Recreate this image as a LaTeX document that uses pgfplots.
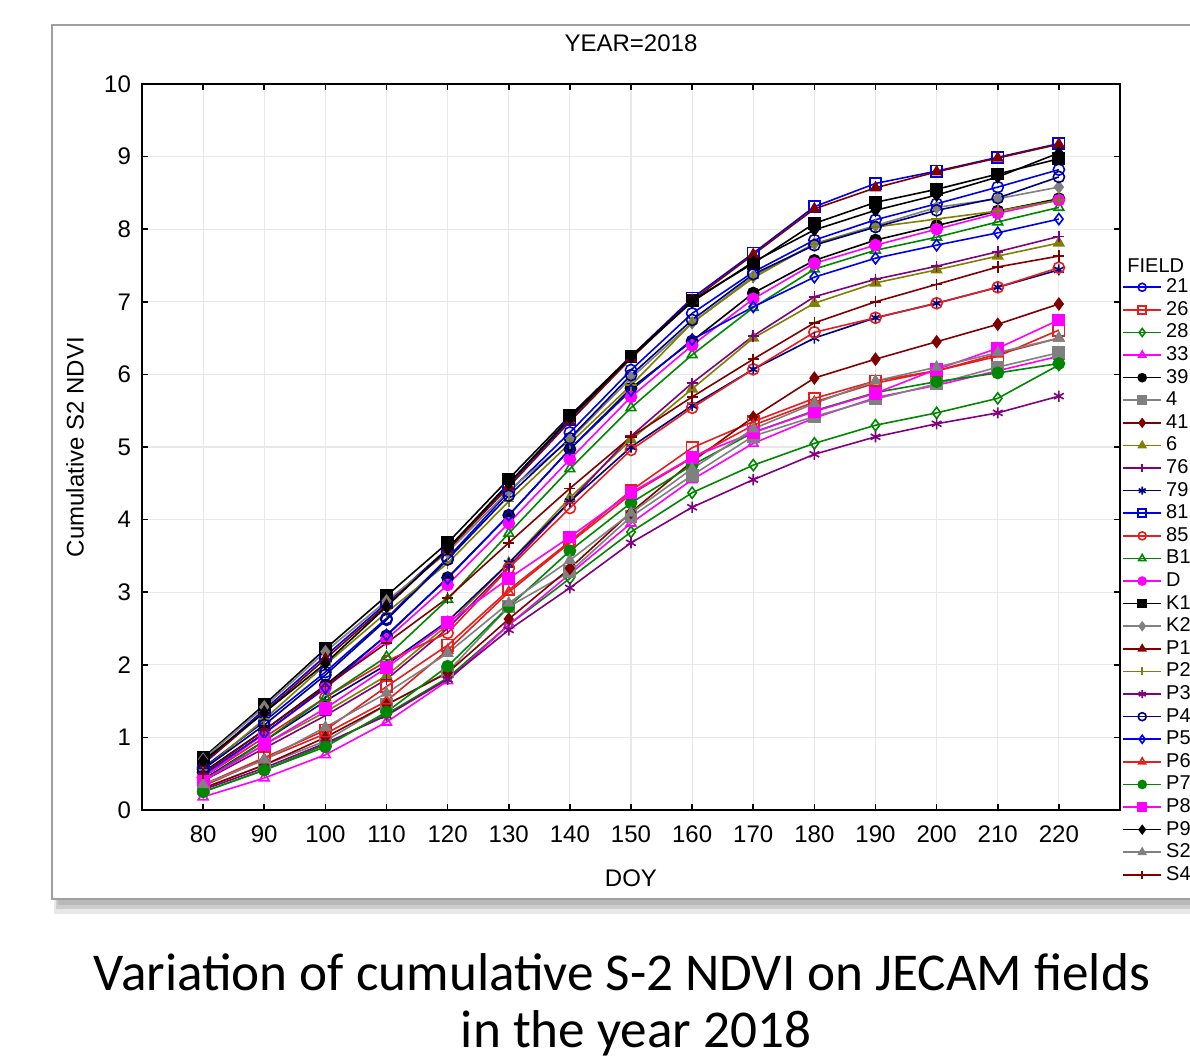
\documentclass[border=0pt]{standalone}
\usepackage{pgfplots}
\pgfplotsset{compat=1.18}
\usepackage{fontspec}
\setmainfont{Liberation Sans}
\newfontfamily\capfont{Carlito}
\definecolor{cblue}{RGB}{0,0,235}
\definecolor{cred}{RGB}{230,30,30}
\definecolor{cgreen}{RGB}{0,135,0}
\definecolor{cmag}{RGB}{255,0,255}
\definecolor{cgrey}{RGB}{128,128,128}
\definecolor{cdred}{RGB}{128,0,0}
\definecolor{colive}{RGB}{128,128,0}
\definecolor{cpurp}{RGB}{128,0,128}
\definecolor{cnavy}{RGB}{0,0,128}
\begin{document}
\begin{tikzpicture}
\path[use as bounding box] (0,0) rectangle (595pt,531pt);
\clip (0,0) rectangle (595pt,531pt);
% slide frame with shadow
\fill[gray!18] (27pt,74pt) rectangle (600pt,81pt);
\fill[gray!40] (28pt,76.5pt) rectangle (600pt,81pt);
\fill[gray!55] (29pt,78.5pt) rectangle (600pt,81pt);
\filldraw[fill=white, draw=gray!75, line width=0.8pt] (26pt,81.5pt) rectangle (600pt,518.5pt);
\node[anchor=west, inner sep=0pt, font=\fontsize{10}{11}\selectfont] at (563.5pt,398pt) {FIELD};
\begin{axis}[
  at={(71pt,126pt)}, anchor=south west,
  scale only axis, width=489pt, height=363pt,
  xmin=70, xmax=230, ymin=0, ymax=10,
  xtick={80,90,...,220}, ytick={0,1,...,10},
  grid=major, grid style={gray!18, line width=0.6pt},
  axis line style={line width=0.9pt},
  tick style={black, line width=0.8pt}, major tick length=3pt,
  tick label style={font=\fontsize{12}{14}\selectfont},
  /pgf/number format/assume math mode=true,
  xticklabel style={yshift=-4.5pt},
  yticklabel style={xshift=-2pt},
  title={YEAR=2018},
  title style={at={(0.5,1)}, anchor=center, yshift=14.5pt, font=\fontsize{12}{14}\selectfont},
  xlabel={DOY},
  xlabel style={at={(0.5,0)}, anchor=center, yshift=-34pt, font=\fontsize{12}{14}\selectfont},
  ylabel={Cumulative S2 NDVI},
  ylabel style={at={(0,0.5)}, anchor=center, yshift=33.5pt, font=\fontsize{12}{14}\selectfont},
  every axis plot/.append style={line width=0.8pt, mark size=2.8pt, mark options={solid}},
  legend style={at={(1,0.736)}, anchor=north west, xshift=1pt, draw=none, fill=none,
    inner sep=0pt, row sep=0.1pt,
    font=\fontsize{10}{11}\selectfont,
    nodes={inner sep=0.9pt, text height=7.4pt, text depth=2pt},
    /tikz/every odd column/.append style={column sep=1.2pt}},
  legend cell align=left,
  legend image code/.code={\draw[mark repeat=2,mark phase=2] plot coordinates {(0pt,0pt)(9.5pt,0pt)(19pt,0pt)};},
  legend image post style={mark size=2pt},
]
\addplot[cblue, mark=o] coordinates {(80,0.58)(90,1.22)(100,1.90)(110,2.64)(120,3.47)(130,4.38)(140,5.20)(150,6.06)(160,6.84)(170,7.41)(180,7.85)(190,8.13)(200,8.35)(210,8.58)(220,8.82)};
\addlegendentry{21}
\addplot[cred, mark=square] coordinates {(80,0.35)(90,0.72)(100,1.10)(110,1.70)(120,2.27)(130,3.03)(140,3.70)(150,4.40)(160,4.99)(170,5.35)(180,5.67)(190,5.91)(200,6.05)(210,6.25)(220,6.61)};
\addlegendentry{26}
\addplot[cgreen, mark=diamond] coordinates {(80,0.25)(90,0.55)(100,0.90)(110,1.32)(120,1.82)(130,2.55)(140,3.19)(150,3.83)(160,4.37)(170,4.75)(180,5.05)(190,5.30)(200,5.47)(210,5.67)(220,6.13)};
\addlegendentry{28}
\addplot[cmag, mark=triangle] coordinates {(80,0.18)(90,0.44)(100,0.76)(110,1.21)(120,1.78)(130,2.55)(140,3.25)(150,3.95)(160,4.55)(170,5.05)(180,5.40)(190,5.68)(200,5.85)(210,6.05)(220,6.25)};
\addlegendentry{33}
\addplot[black, mark=*] coordinates {(80,0.52)(90,1.10)(100,1.72)(110,2.40)(120,3.20)(130,4.06)(140,4.97)(150,5.81)(160,6.46)(170,7.12)(180,7.57)(190,7.85)(200,8.05)(210,8.25)(220,8.42)};
\addlegendentry{39}
\addplot[cgrey, mark=square*] coordinates {(80,0.30)(90,0.62)(100,0.95)(110,1.45)(120,1.90)(130,2.80)(140,3.28)(150,4.04)(160,4.61)(170,5.15)(180,5.42)(190,5.66)(200,5.87)(210,6.10)(220,6.30)};
\addlegendentry{4}
\addplot[cdred, mark=diamond*] coordinates {(80,0.30)(90,0.62)(100,1.00)(110,1.45)(120,1.89)(130,2.63)(140,3.33)(150,4.10)(160,4.80)(170,5.41)(180,5.95)(190,6.21)(200,6.45)(210,6.69)(220,6.97)};
\addlegendentry{41}
\addplot[colive, mark=triangle*] coordinates {(80,0.42)(90,0.90)(100,1.35)(110,1.85)(120,2.55)(130,3.40)(140,4.30)(150,5.10)(160,5.80)(170,6.50)(180,6.98)(190,7.26)(200,7.44)(210,7.63)(220,7.81)};
\addlegendentry{6}
\addplot[cpurp, mark=+] coordinates {(80,0.40)(90,0.85)(100,1.30)(110,1.80)(120,2.50)(130,3.35)(140,4.25)(150,5.15)(160,5.88)(170,6.53)(180,7.07)(190,7.31)(200,7.49)(210,7.69)(220,7.90)};
\addlegendentry{76}
\addplot[cnavy, mark=asterisk] coordinates {(80,0.42)(90,0.95)(100,1.50)(110,2.00)(120,2.60)(130,3.40)(140,4.25)(150,5.00)(160,5.57)(170,6.07)(180,6.50)(190,6.78)(200,6.98)(210,7.20)(220,7.44)};
\addlegendentry{79}
\addplot[cblue, mark=square] coordinates {(80,0.65)(90,1.38)(100,2.12)(110,2.85)(120,3.60)(130,4.48)(140,5.38)(150,6.25)(160,7.05)(170,7.67)(180,8.31)(190,8.63)(200,8.80)(210,8.99)(220,9.18)};
\addlegendentry{81}
\addplot[cred, mark=o] coordinates {(80,0.45)(90,1.00)(100,1.55)(110,2.05)(120,2.44)(130,3.33)(140,4.16)(150,4.96)(160,5.54)(170,6.07)(180,6.58)(190,6.78)(200,6.98)(210,7.20)(220,7.47)};
\addlegendentry{85}
\addplot[cgreen, mark=triangle] coordinates {(80,0.40)(90,0.95)(100,1.55)(110,2.11)(120,2.90)(130,3.81)(140,4.70)(150,5.54)(160,6.27)(170,6.92)(180,7.45)(190,7.71)(200,7.89)(210,8.10)(220,8.30)};
\addlegendentry{B1}
\addplot[cmag, mark=*] coordinates {(80,0.45)(90,1.05)(100,1.68)(110,2.35)(120,3.10)(130,3.95)(140,4.83)(150,5.69)(160,6.40)(170,7.04)(180,7.53)(190,7.78)(200,8.00)(210,8.22)(220,8.40)};
\addlegendentry{D}
\addplot[black, mark=square*] coordinates {(80,0.72)(90,1.45)(100,2.22)(110,2.95)(120,3.68)(130,4.56)(140,5.43)(150,6.25)(160,7.02)(170,7.53)(180,8.08)(190,8.37)(200,8.55)(210,8.76)(220,8.97)};
\addlegendentry{K1}
\addplot[cgrey, mark=diamond*] coordinates {(80,0.70)(90,1.42)(100,2.18)(110,2.88)(120,3.55)(130,4.40)(140,5.10)(150,5.95)(160,6.71)(170,7.35)(180,7.80)(190,8.05)(200,8.30)(210,8.42)(220,8.58)};
\addlegendentry{K2}
\addplot[cdred, mark=triangle*] coordinates {(80,0.63)(90,1.35)(100,2.08)(110,2.82)(120,3.58)(130,4.45)(140,5.35)(150,6.22)(160,7.02)(170,7.65)(180,8.28)(190,8.57)(200,8.79)(210,8.98)(220,9.17)};
\addlegendentry{P1}
\addplot[colive, mark=+] coordinates {(80,0.55)(90,1.25)(100,2.00)(110,2.72)(120,3.40)(130,4.25)(140,5.05)(150,5.85)(160,6.71)(170,7.33)(180,7.80)(190,8.03)(200,8.14)(210,8.25)(220,8.40)};
\addlegendentry{P2}
\addplot[cpurp, mark=asterisk] coordinates {(80,0.28)(90,0.58)(100,0.92)(110,1.30)(120,1.80)(130,2.48)(140,3.06)(150,3.68)(160,4.17)(170,4.55)(180,4.90)(190,5.14)(200,5.32)(210,5.47)(220,5.70)};
\addlegendentry{P3}
\addplot[cnavy, mark=o] coordinates {(80,0.56)(90,1.17)(100,1.86)(110,2.62)(120,3.45)(130,4.33)(140,5.12)(150,5.99)(160,6.75)(170,7.38)(180,7.78)(190,8.03)(200,8.26)(210,8.43)(220,8.72)};
\addlegendentry{P4}
\addplot[cblue, mark=diamond] coordinates {(80,0.48)(90,1.06)(100,1.68)(110,2.41)(120,3.19)(130,4.06)(140,4.97)(150,5.78)(160,6.48)(170,6.93)(180,7.34)(190,7.60)(200,7.78)(210,7.95)(220,8.14)};
\addlegendentry{P5}
\addplot[cred, mark=triangle] coordinates {(80,0.33)(90,0.70)(100,1.05)(110,1.50)(120,2.20)(130,3.00)(140,3.68)(150,4.35)(160,4.85)(170,5.30)(180,5.62)(190,5.88)(200,6.05)(210,6.28)(220,6.50)};
\addlegendentry{P6}
\addplot[cgreen, mark=*] coordinates {(80,0.25)(90,0.55)(100,0.87)(110,1.35)(120,1.98)(130,2.80)(140,3.57)(150,4.23)(160,4.75)(170,5.20)(180,5.50)(190,5.75)(200,5.90)(210,6.02)(220,6.15)};
\addlegendentry{P7}
\addplot[cmag, mark=square*] coordinates {(80,0.40)(90,0.90)(100,1.40)(110,1.96)(120,2.58)(130,3.19)(140,3.76)(150,4.37)(160,4.86)(170,5.20)(180,5.49)(190,5.74)(200,6.07)(210,6.36)(220,6.75)};
\addlegendentry{P8}
\addplot[black, mark=diamond*] coordinates {(80,0.68)(90,1.34)(100,2.02)(110,2.80)(120,3.60)(130,4.50)(140,5.40)(150,6.24)(160,7.00)(170,7.55)(180,7.99)(190,8.26)(200,8.47)(210,8.72)(220,9.05)};
\addlegendentry{P9}
\addplot[cgrey, mark=triangle*] coordinates {(80,0.35)(90,0.69)(100,1.14)(110,1.61)(120,2.16)(130,2.85)(140,3.44)(150,4.09)(160,4.70)(170,5.25)(180,5.60)(190,5.91)(200,6.10)(210,6.30)(220,6.50)};
\addlegendentry{S2}
\addplot[cdred, mark=+] coordinates {(80,0.50)(90,1.10)(100,1.70)(110,2.30)(120,2.92)(130,3.68)(140,4.43)(150,5.14)(160,5.69)(170,6.21)(180,6.71)(190,7.00)(200,7.24)(210,7.48)(220,7.63)};
\addlegendentry{S4}
\end{axis}
\node[anchor=base, font=\capfont\fontsize{26.6}{30}\selectfont] at (311pt,36pt) {Variation of cumulative S-2 NDVI on JECAM fields};
\node[anchor=base, font=\capfont\fontsize{26.6}{30}\selectfont] at (318pt,7.5pt) {in the year 2018};
\end{tikzpicture}
\end{document}
